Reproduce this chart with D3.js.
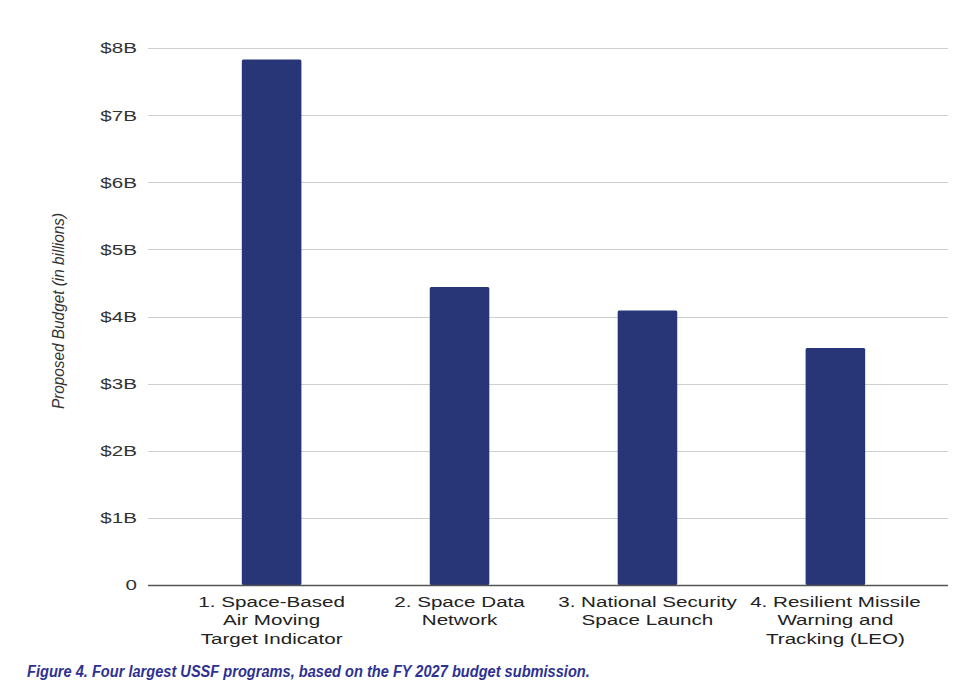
<!DOCTYPE html>
<html>
<head>
<meta charset="utf-8">
<script src="https://cdn.jsdelivr.net/npm/d3@7"></script>
<style>
  body { margin: 0; background: #fff; }
  svg { display: block; }
</style>
</head>
<body>
<div id="viz-container"></div>
<script>
let programs = [
  ["1. Space-Based", "Air Moving", "Target Indicator"],
  ["2. Space Data", "Network"],
  ["3. National Security", "Space Launch"],
  ["4. Resilient Missile", "Warning and", "Tracking (LEO)"]
];
let budgets = [7.83, 4.44, 4.09, 3.53];   // billions
let tickValues = [0, 1, 2, 3, 4, 5, 6, 7, 8];
let tickLabels = ["0", "$1B", "$2B", "$3B", "$4B", "$5B", "$6B", "$7B", "$8B"];

let W = 980, H = 692;
let plotL = 148, plotR = 948, plotT = 48, plotB = 585;
let wide = 1.33;   // the original's labels are stretched sideways

let viz = d3.select("#viz-container")
  .append("svg")
    .attr("width", W)
    .attr("height", H)
;

let y = d3.scaleLinear().domain([0, 8]).range([plotB, plotT]);

// bars sit a few px right of the grid centre in the original
let x = d3.scaleBand()
  .domain(d3.range(programs.length))
  .range([plotL + 5.5, plotR + 5.5])
  .paddingInner(0.683)
  .paddingOuter(0.47);

// y labels
let yAxis = d3.axisLeft(y)
  .tickValues(tickValues)
  .tickSize(0)
  .tickPadding(11)
  .tickFormat((d, i) => tickLabels[i]);

let gy = viz.append("g")
    .attr("transform", `translate(${plotL},0)`)
    .call(yAxis);
gy.select(".domain").remove();
gy.selectAll("text")
    .attr("x", 0)
    .attr("transform", `translate(-11,0) scale(${wide},1)`)
    .attr("font-family", "'Liberation Sans', Arial, sans-serif")
    .attr("font-size", 15.5)
    .attr("fill", "#333");

// grid
viz.append("g").selectAll("line")
  .data(tickValues.filter(d => d > 0))
  .enter().append("line")
    .attr("x1", plotL).attr("x2", plotR)
    .attr("y1", d => Math.round(y(d)) + 0.5)
    .attr("y2", d => Math.round(y(d)) + 0.5)
    .attr("stroke", "#cfcfcf")
    .attr("stroke-width", 1)
;

// bars
viz.append("g").selectAll("rect")
  .data(budgets)
  .enter().append("rect")
    .attr("x", (d, i) => x(i))
    .attr("y", d => y(d))
    .attr("width", x.bandwidth())
    .attr("height", d => y(0) - y(d))
    .attr("rx", 1.5)
    .attr("fill", "#283576")
;

// baseline
viz.append("line")
    .attr("x1", plotL).attr("x2", plotR)
    .attr("y1", plotB + 0.5).attr("y2", plotB + 0.5)
    .attr("stroke", "#555")
    .attr("stroke-width", 1.5);

// category labels
let cats = viz.append("g").selectAll("g")
  .data(programs)
  .enter().append("g")
    .attr("transform", (d, i) => `translate(${x(i) + x.bandwidth() / 2},607) scale(${wide},1)`)
  .append("text")
    .attr("text-anchor", "middle")
    .attr("font-family", "'Liberation Sans', Arial, sans-serif")
    .attr("font-size", 15.5)
    .attr("fill", "#222");
cats.selectAll("tspan")
  .data(d => d)
  .enter().append("tspan")
    .attr("x", 0)
    .attr("dy", (d, i) => i === 0 ? 0 : 18.5)
    .text(d => d);

// y title
viz.append("text")
    .attr("transform", "translate(64,311) rotate(-90) scale(0.96,1)")
    .attr("text-anchor", "middle")
    .attr("font-family", "'Liberation Sans', Arial, sans-serif")
    .attr("font-size", 16)
    .attr("font-style", "italic")
    .attr("fill", "#333")
    .text("Proposed Budget (in billions)");

// caption
viz.append("text")
    .attr("transform", "translate(27,677) scale(0.885,1)")
    .attr("font-family", "'Liberation Sans', Arial, sans-serif")
    .attr("font-size", 16.5)
    .attr("font-weight", "bold")
    .attr("font-style", "italic")
    .attr("fill", "#2e3192")
    .text("Figure 4. Four largest USSF programs, based on the FY 2027 budget submission.");
</script>
</body>
</html>
